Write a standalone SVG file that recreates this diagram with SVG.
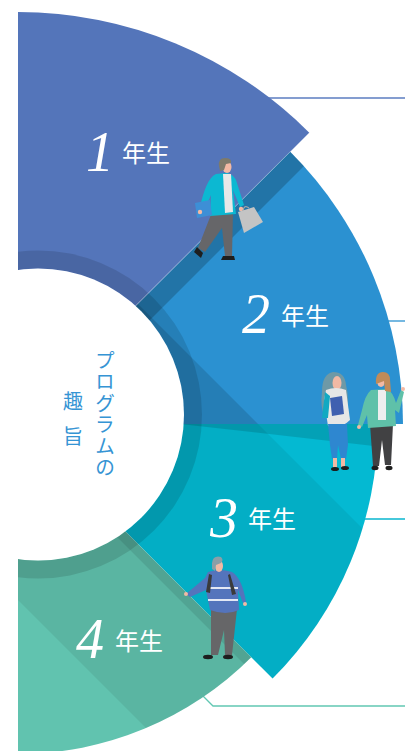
<svg xmlns="http://www.w3.org/2000/svg" width="405" height="751" viewBox="0 0 405 751">
  <style>
    .num { font-family: "Liberation Serif", "DejaVu Serif", serif; font-style: italic; font-size: 56px; fill: #ffffff; }
    .grade { font-family: "Noto Sans CJK JP", "Noto Sans", sans-serif; font-size: 24px; fill: #ffffff; }
    .title { font-family: "Noto Sans CJK JP", "Noto Sans", sans-serif; font-size: 20px; fill: #3594d4; writing-mode: vertical-rl; }
    .skin { fill: #f2b9a4; }
    .shoe { fill: #1e1e1e; }
    .shade { fill: #000000; }
  </style>
  <defs>
    <path id="sector1" d="M18,424 L18,12 A412,412 0 0 1 309.3,132.7 Z"/>
    <path id="sector2" d="M18,424 L290.2,151.8 A385,385 0 0 1 403,424 Z"/>
    <path id="sector3" d="M18,424 L378,424 A360,360 0 0 1 272.6,678.6 Z"/>
    <path id="sector4" d="M18,424 L251.3,657.3 A330,330 0 0 1 18,754 Z"/>
    <clipPath id="clip2"><use href="#sector2"/></clipPath>
    <clipPath id="clip3"><use href="#sector3"/></clipPath>
    <clipPath id="clip4"><use href="#sector4"/></clipPath>
    <clipPath id="clipAll"><use href="#sector1"/><use href="#sector2"/><use href="#sector3"/><use href="#sector4"/></clipPath>
  </defs>

  <rect width="405" height="751" fill="#ffffff"/>

  <!-- leader lines running out to the right -->
  <g id="connectors" fill="none" stroke-width="1.3">
    <line x1="260" y1="98" x2="405" y2="98" stroke="#5b7cc0"/>
    <line x1="385" y1="321" x2="405" y2="321" stroke="#2b91d1"/>
    <line x1="360" y1="519" x2="405" y2="519" stroke="#08b6cf"/>
    <polyline points="200,693 213,706 405,706" stroke="#61c7b2"/>
  </g>

  <!-- the four grade sectors -->
  <g id="year1"><use href="#sector1" fill="#5475ba"/></g>
  <g id="year2"><use href="#sector2" fill="#2b91d1"/></g>
  <g id="year3"><use href="#sector3" fill="#04b9d2"/></g>
  <g id="year4"><use href="#sector4" fill="#61c3af"/></g>

  <!-- shading -->
  <g id="shading">
    <polygon class="shade" clip-path="url(#clip2)" points="0,441 441,0 470,0 0,470" opacity="0.2"/>
    <polygon class="shade" clip-path="url(#clip2)" points="0,166 600,766 0,766" opacity="0.13"/>
    <polygon class="shade" clip-path="url(#clip3)" points="0,166 600,766 0,766" opacity="0.06"/>
    <polygon class="shade" clip-path="url(#clip3)" points="180,424 410,424 410,450" opacity="0.13"/>
    <polygon class="shade" clip-path="url(#clip4)" points="0,406 400,806 224,806 0,582" opacity="0.07"/>
    <polygon class="shade" clip-path="url(#clip4)" points="0,406 400,806 386,806 0,420" opacity="0.09"/>
    <path class="shade" clip-path="url(#clipAll)" fill-rule="evenodd" opacity="0.12"
          d="M-126,414.5 a164,164 0 1 0 328,0 a164,164 0 1 0 -328,0 Z M-108,414.5 a146,146 0 1 0 292,0 a146,146 0 1 0 -292,0 Z"/>
    <line x1="135" y1="306" x2="309.3" y2="132.7" stroke="#ffffff" stroke-opacity="0.35" stroke-width="0.8"/>
  </g>

  <!-- centre disc with the title -->
  <g id="center">
    <circle cx="38" cy="414.5" r="146" fill="#ffffff"/>
    <rect x="0" y="0" width="18" height="751" fill="#ffffff"/>
    <text class="title" x="105" y="350" letter-spacing="1.5">プログラムの</text>
    <text class="title" x="73" y="391" letter-spacing="15">趣旨</text>
  </g>

  <!-- grade labels -->
  <g id="label1"><text class="num" x="86" y="171">1</text><text class="grade" x="122" y="162">年生</text></g>
  <g id="label2"><text class="num" x="242" y="333">2</text><text class="grade" x="281" y="325">年生</text></g>
  <g id="label3"><text class="num" x="210" y="537">3</text><text class="grade" x="248" y="528">年生</text></g>
  <g id="label4"><text class="num" x="76" y="658">4</text><text class="grade" x="115" y="650">年生</text></g>

  <!-- walking student with a bag -->
  <g id="student1">
    <path d="M212,212 L233,212 L232,256 L225,256 L222,228 L205,252 L198,248 Z" fill="#666669"/>
    <path d="M197,247 L203,253 L201,258 L194,252 Z" class="shoe"/>
    <path d="M223,256 L234,256 L235,260 L221,260 Z" class="shoe"/>
    <path d="M216,174 C208,178 204,190 200,207 L205,209 L211,195 L210,216 L236,214 L233,190 L240,207 L244,205 L236,180 C234,176 230,173 226,173 Z" fill="#0cb8d2"/>
    <path d="M223,174 L231,174 L233,212 L225,213 Z" fill="#e8e8e8"/>
    <path d="M195,203 L210,200 L212,215 L197,218 Z" fill="#3d8fd6"/>
    <circle cx="200" cy="212" r="2.2" class="skin"/>
    <circle cx="241" cy="209" r="2.2" class="skin"/>
    <path d="M243,211 Q244,204 249,208" fill="none" stroke="#a8a8a8" stroke-width="1.2"/>
    <path d="M238,212 L254,207 L263,222 L244,233 Z" fill="#c4c4c4"/>
    <ellipse cx="227" cy="167" rx="4.5" ry="6" class="skin"/>
    <path d="M219,166 Q218,158 225,158 Q232,158 231,163 L226,164 L224,170 L220,171 Z" fill="#7d7a6b"/>
  </g>

  <!-- student holding a book -->
  <g id="student2">
    <path d="M333,372 Q322,374 322,392 Q320,408 325,417 L332,412 L346,412 Q350,400 346,385 Q345,372 333,372 Z" fill="#6e99a6"/>
    <ellipse cx="337" cy="383" rx="4.5" ry="7" class="skin"/>
    <path d="M326,390 Q336,386 346,390 L350,420 Q340,430 328,426 L324,400 Z" fill="#e6e6e6"/>
    <path d="M325,392 L322,418 L328,418 L330,396 Z" fill="#12a9c2"/>
    <path d="M330,398 L342,396 L344,414 L332,416 Z" fill="#3f60b0"/>
    <path d="M328,424 L347,424 L348,445 L346,459 L341,459 L338,445 L337,459 L332,459 L330,445 Z" fill="#2e87d0"/>
    <rect x="333" y="458" width="4" height="9" class="skin"/>
    <rect x="341" y="458" width="4" height="9" class="skin"/>
    <ellipse cx="335" cy="469" rx="4" ry="2" class="shoe"/>
    <ellipse cx="345" cy="468" rx="4" ry="2" class="shoe"/>
  </g>

  <!-- student in a green jacket -->
  <g id="student3">
    <path d="M370,424 L393,424 L391,465 L385,465 L382,440 L379,466 L373,466 Z" fill="#414143"/>
    <ellipse cx="375" cy="468" rx="3.5" ry="2.2" class="shoe"/>
    <ellipse cx="389" cy="468" rx="3.5" ry="2.2" class="shoe"/>
    <path d="M371,390 Q365,395 362,410 L358,425 L362,427 L367,415 L368,428 L396,426 L395,410 L399,413 L404,392 L401,390 L396,403 Q393,392 387,389 Z" fill="#5fc1a9"/>
    <path d="M378,390 L386,390 L386,420 L378,420 Z" fill="#eeeeee"/>
    <ellipse cx="381" cy="381" rx="4" ry="6" class="skin"/>
    <path d="M376,384 Q375,372 383,372 Q390,372 390,380 L391,392 L385,391 L384,381 Z" fill="#c08b59"/>
    <circle cx="403" cy="389" r="2" class="skin"/>
    <circle cx="359" cy="427" r="2" class="skin"/>
  </g>

  <!-- student with a backpack -->
  <g id="student4">
    <path d="M211,609 L237,609 L232,655 L225,655 L224,630 L218,655 L211,655 Z" fill="#666668"/>
    <ellipse cx="208" cy="657" rx="5" ry="2.2" class="shoe"/>
    <ellipse cx="228" cy="657" rx="5" ry="2.2" class="shoe"/>
    <path d="M208,572 Q220,568 232,572 Q242,578 246,602 L243,603 L238,590 L239,610 Q226,616 210,610 L206,590 L190,597 L186,594 L205,578 Z" fill="#5474bc"/>
    <path d="M207,588 L238,588 M208,600 L238,600" stroke="#e3e8f5" stroke-width="2"/>
    <path d="M209,574 L206,592 L210,593 L212,575 Z M230,574 L236,594 L232,595 L228,575 Z" fill="#3a3a3a"/>
    <ellipse cx="219" cy="566" rx="4" ry="6" class="skin"/>
    <path d="M212,563 Q213,555 221,557 Q224,560 221,563 L216,565 L215,571 L212,569 Z" fill="#8a9fa8"/>
    <circle cx="186" cy="594" r="2" class="skin"/>
    <circle cx="245" cy="604" r="2" class="skin"/>
  </g>
</svg>
